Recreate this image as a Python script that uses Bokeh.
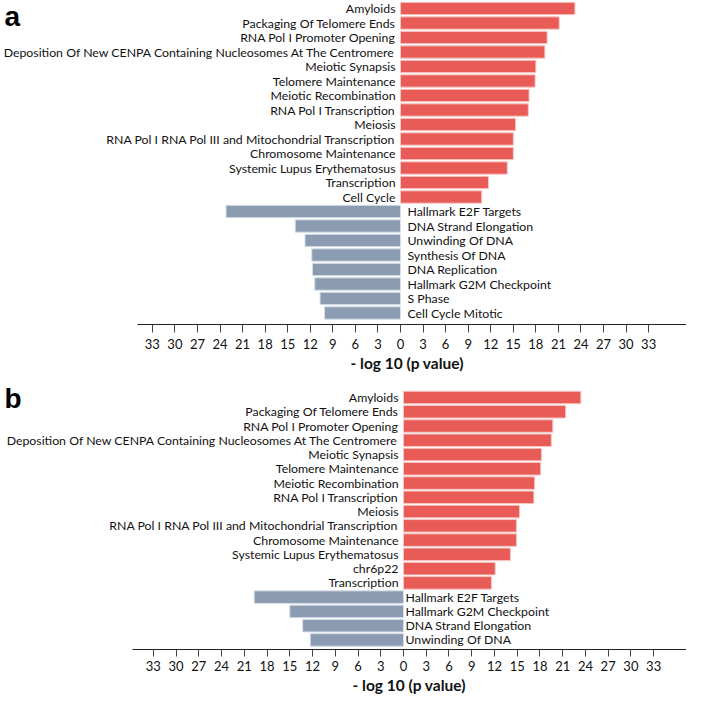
from bokeh.plotting import figure
from bokeh.layouts import column
from bokeh.models import Range1d, FixedTicker, Label
from bokeh.embed import file_html
from bokeh.resources import INLINE
from bokeh.core.properties import value

# ---- Panel a data ----
a_up_terms = ["Amyloids", "Packaging Of Telomere Ends", "RNA Pol I Promoter Opening",
              "Deposition Of New CENPA Containing Nucleosomes At The Centromere",
              "Meiotic Synapsis", "Telomere Maintenance", "Meiotic Recombination",
              "RNA Pol I Transcription", "Meiosis",
              "RNA Pol I RNA Pol III and Mitochondrial Transcription",
              "Chromosome Maintenance", "Systemic Lupus Erythematosus",
              "Transcription", "Cell Cycle"]
a_up_vals = [23.2, 21.1, 19.5, 19.2, 18.0, 17.9, 17.1, 17.0, 15.3, 15.0, 15.0, 14.2, 11.7, 10.8]
a_down_terms = ["Hallmark E2F Targets", "DNA Strand Elongation", "Unwinding Of DNA",
                "Synthesis Of DNA", "DNA Replication", "Hallmark G2M Checkpoint",
                "S Phase", "Cell Cycle Mitotic"]
a_down_vals = [23.2, 14.0, 12.7, 11.8, 11.7, 11.4, 10.7, 10.1]

# ---- Panel b data ----
b_up_terms = ["Amyloids", "Packaging Of Telomere Ends", "RNA Pol I Promoter Opening",
              "Deposition Of New CENPA Containing Nucleosomes At The Centromere",
              "Meiotic Synapsis", "Telomere Maintenance", "Meiotic Recombination",
              "RNA Pol I Transcription", "Meiosis",
              "RNA Pol I RNA Pol III and Mitochondrial Transcription",
              "Chromosome Maintenance", "Systemic Lupus Erythematosus",
              "chr6p22", "Transcription"]
b_up_vals = [23.4, 21.4, 19.7, 19.5, 18.2, 18.1, 17.3, 17.2, 15.3, 14.9, 14.9, 14.1, 12.1, 11.6]
b_down_terms = ["Hallmark E2F Targets", "Hallmark G2M Checkpoint",
                "DNA Strand Elongation", "Unwinding Of DNA"]
b_down_vals = [19.7, 15.0, 13.3, 12.3]

tick_vals = list(range(-33, 34, 3))
axis_title = "- log 10 (p value)"

RED = "#E85B56"
BLUE = "#8A9BB2"
FONT = "Lato"
W = 686
LABEL_FIX = 9  # observed downward shift of screen-unit labels


def panel(letter, up_terms, up_vals, down_terms, down_vals, height, row_px, top_pad,
          zero_px, unit_px, axis_left_px, bottom_border, lab_left_off, lab_right_off,
          letter_base, bar_h, tick_out, tick_standoff, title_left, title_standoff):
    frame_h = height - bottom_border
    y0 = -top_pad / row_px
    y1 = y0 + frame_h / row_px
    x0 = -zero_px / unit_px
    x1 = (W - zero_px) / unit_px
    p = figure(width=W, height=height, x_range=Range1d(x0, x1), y_range=Range1d(y1, y0),
               output_backend="svg", toolbar_location=None, y_axis_location=None,
               min_border_left=0, min_border_right=0, min_border_top=0,
               min_border_bottom=bottom_border, title=axis_title, title_location="below")
    p.outline_line_color = None
    p.grid.visible = False
    p.background_fill_color = "white"
    p.border_fill_color = "white"

    p.title.align = "left"
    p.title.offset = title_left
    p.title.standoff = title_standoff
    p.title.text_font = FONT
    p.title.text_font_size = "15.5px"
    p.title.text_font_style = "bold"
    p.title.text_color = "#111111"

    n_up = len(up_terms)
    y_up = list(range(n_up))
    y_down = list(range(n_up, n_up + len(down_terms)))
    neg_down = [-v for v in down_vals]

    p.hbar(y=y_up, left=0, right=up_vals, height=bar_h, fill_color=RED,
           line_color="#F6C9C6", line_width=1)
    p.hbar(y=y_down, left=neg_down, right=0, height=bar_h, fill_color=BLUE,
           line_color="#D6DDE6", line_width=1)

    zeros_up = [0] * n_up
    zeros_down = [0] * len(down_terms)
    p.text(x=zeros_up, y=y_up, text=up_terms, x_offset=lab_left_off, text_align="right",
           text_baseline="middle", text_font=value(FONT), text_font_size="12.3px",
           text_color="#111111")
    p.text(x=zeros_down, y=y_down, text=down_terms, x_offset=lab_right_off, text_align="left",
           text_baseline="middle", text_font=value(FONT), text_font_size="12.3px",
           text_color="#111111")

    ax = p.xaxis[0]
    ax.ticker = FixedTicker(ticks=tick_vals)
    ax.major_label_overrides = {t: str(abs(t)) for t in tick_vals}
    ax.bounds = ((axis_left_px - zero_px) / unit_px, x1)
    ax.axis_line_color = "#222222"
    ax.axis_line_width = 1.2
    ax.major_tick_line_color = "#444444"
    ax.major_tick_out = tick_out
    ax.major_tick_in = 0
    ax.minor_tick_out = 0
    ax.minor_tick_in = 0
    ax.major_label_standoff = tick_standoff
    ax.major_label_text_font = FONT
    ax.major_label_text_font_size = "13px"
    ax.major_label_text_color = "#111111"

    p.add_layout(Label(x=4, y=frame_h - letter_base + LABEL_FIX, x_units="screen",
                       y_units="screen", text=letter, text_font="Liberation Sans",
                       text_font_size="28px", text_font_style="bold", text_color="black",
                       text_baseline="alphabetic"))
    return p


pa = panel("a", a_up_terms, a_up_vals, a_down_terms, a_down_vals, height=380, row_px=14.5,
           top_pad=8, zero_px=400, unit_px=7.52, axis_left_px=137, bottom_border=56,
           lab_left_off=-5, lab_right_off=7, letter_base=25, bar_h=0.85,
           tick_out=8, tick_standoff=6, title_left=350, title_standoff=1)
pb = panel("b", b_up_terms, b_up_vals, b_down_terms, b_down_vals, height=314, row_px=14.26,
           top_pad=17, zero_px=403, unit_px=7.58, axis_left_px=132, bottom_border=45,
           lab_left_off=-5, lab_right_off=2, letter_base=27, bar_h=0.88,
           tick_out=7, tick_standoff=4, title_left=352, title_standoff=0)

layout = column(pa, pb, spacing=0)
open("out.html", "w").write(file_html(layout, INLINE))
